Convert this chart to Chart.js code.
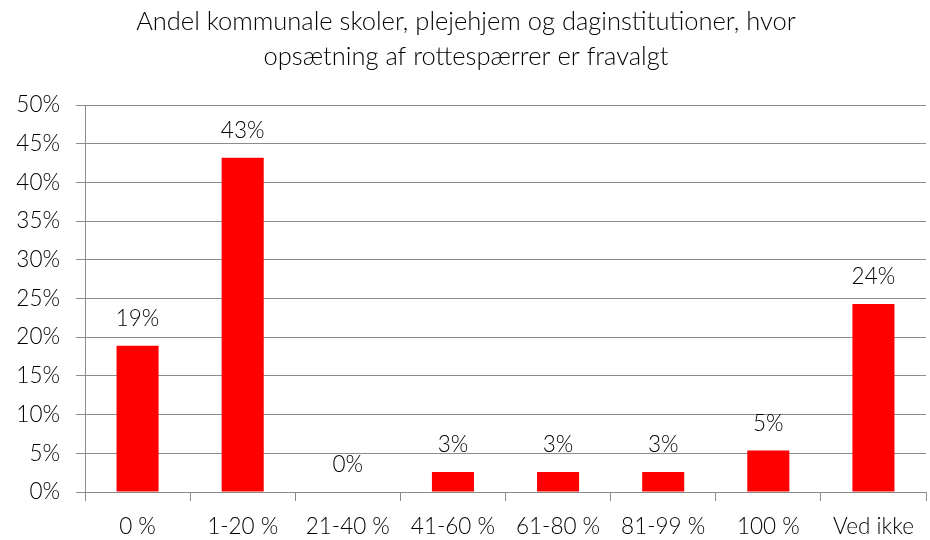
<!DOCTYPE html>
<html>
<head>
<meta charset="utf-8">
<script src="https://cdn.jsdelivr.net/npm/chart.js@4"></script>
<style>
html,body{margin:0;padding:0;background:#fff;}
#wrap{width:930px;height:540px;position:relative;}
</style>
</head>
<body>
<div id="wrap"><canvas id="c" width="930" height="540"></canvas></div>
<script>
const titleLines = ["Andel kommunale skoler, plejehjem og daginstitutioner, hvor", "opsætning af rottespærrer er fravalgt"];
const categories = ["0 %", "1-20 %", "21-40 %", "41-60 %", "61-80 %", "81-99 %", "100 %", "Ved ikke"];
const values = [18.9, 43.2, 0, 2.6, 2.6, 2.6, 5.35, 24.3];
const valueLabels = ["19%", "43%", "0%", "3%", "3%", "3%", "5%", "24%"];
const yTicks = [0, 5, 10, 15, 20, 25, 30, 35, 40, 45, 50];

const FONT = "Lato, 'Open Sans', sans-serif";
const GRID = "#8c8c8c";

const titlePlugin = {
  id: 'fixedTitle',
  afterDraw(chart) {
    const ctx = chart.ctx;
    ctx.save();
    ctx.fillStyle = '#000';
    ctx.font = "300 25.5px " + FONT;
    ctx.textAlign = 'center';
    ctx.textBaseline = 'middle';
    ctx.fillText(titleLines[0], 466, 22);
    ctx.fillText(titleLines[1], 466, 57);
    ctx.restore();
  }
};

const valueLabelPlugin = {
  id: 'valueLabels',
  afterDatasetsDraw(chart) {
    const ctx = chart.ctx;
    const meta = chart.getDatasetMeta(0);
    ctx.save();
    ctx.fillStyle = '#000';
    ctx.font = "300 22.5px " + FONT;
    ctx.textAlign = 'center';
    ctx.textBaseline = 'middle';
    meta.data.forEach((bar, i) => {
      ctx.fillText(valueLabels[i], bar.x, bar.y - 27);
    });
    ctx.restore();
  }
};

new Chart(document.getElementById('c'), {
  type: 'bar',
  data: {
    labels: categories,
    datasets: [{
      data: values,
      backgroundColor: '#ff0000',
      borderWidth: 0,
      categoryPercentage: 1.0,
      barPercentage: 0.4
    }]
  },
  options: {
    responsive: false,
    animation: false,
    devicePixelRatio: 1,
    layout: { padding: { top: 105, right: 4, bottom: 0, left: 0 } },
    plugins: { legend: { display: false }, tooltip: { enabled: false }, title: { display: false } },
    scales: {
      x: {
        grid: { display: true, drawOnChartArea: false, offset: true, color: GRID, tickLength: 9, lineWidth: 1 },
        border: { display: true, color: GRID, width: 1 },
        ticks: { color: '#000', font: { family: FONT, size: 22.5, weight: 300 }, padding: 12, maxRotation: 0, autoSkip: false },
        afterFit(s) { s.height = 48; }
      },
      y: {
        min: 0, max: 50,
        afterBuildTicks(s) { s.ticks = yTicks.map(v => ({ value: v })); },
        grid: { color: GRID, tickLength: 9, lineWidth: 1 },
        border: { display: true, color: GRID, width: 1 },
        ticks: { color: '#000', font: { family: FONT, size: 22.5, weight: 300 }, padding: 16, callback: v => v + '%' },
        afterFit(s) { s.width = 85; }
      }
    }
  },
  plugins: [titlePlugin, valueLabelPlugin]
});
</script>
</body>
</html>
